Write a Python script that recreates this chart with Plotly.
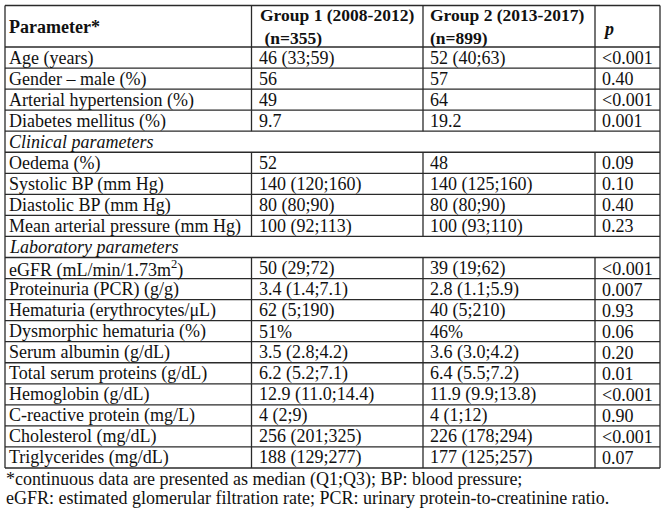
import plotly.graph_objects as go

# ---- data ----
header = ["Parameter*", "Group 1 (2008-2012)<br> (n=355)", "Group 2 (2013-2017)<br>(n=899)", "<i>p</i>"]
parameters = [
    "Age (years)", "Gender – male (%)", "Arterial hypertension (%)", "Diabetes mellitus (%)",
    "Clinical parameters",
    "Oedema (%)", "Systolic BP (mm Hg)", "Diastolic BP (mm Hg)", "Mean arterial pressure (mm Hg)",
    "Laboratory parameters",
    "eGFR (mL/min/1.73m<sup>2</sup>)", "Proteinuria (PCR) (g/g)", "Hematuria (erythrocytes/μL)",
    "Dysmorphic hematuria (%)", "Serum albumin (g/dL)", "Total serum proteins (g/dL)",
    "Hemoglobin (g/dL)", "C-reactive protein (mg/L)", "Cholesterol (mg/dL)", "Triglycerides (mg/dL)",
]
group1 = ["46 (33;59)", "56", "49", "9.7", None, "52", "140 (120;160)", "80 (80;90)", "100 (92;113)", None,
          "50 (29;72)", "3.4 (1.4;7.1)", "62 (5;190)", "51%", "3.5 (2.8;4.2)", "6.2 (5.2;7.1)",
          "12.9 (11.0;14.4)", "4 (2;9)", "256 (201;325)", "188 (129;277)"]
group2 = ["52 (40;63)", "57", "64", "19.2", None, "48", "140 (125;160)", "80 (80;90)", "100 (93;110)", None,
          "39 (19;62)", "2.8 (1.1;5.9)", "40 (5;210)", "46%", "3.6 (3.0;4.2)", "6.4 (5.5;7.2)",
          "11.9 (9.9;13.8)", "4 (1;12)", "226 (178;294)", "177 (125;257)"]
p_values = ["<0.001", "0.40", "<0.001", "0.001", None, "0.09", "0.10", "0.40", "0.23", None,
            "<0.001", "0.007", "0.93", "0.06", "0.20", "0.01", "<0.001", "0.90", "<0.001", "0.07"]
footnotes = ["*continuous data are presented as median (Q1;Q3); BP: blood pressure;",
             "eGFR: estimated glomerular filtration rate; PCR: urinary protein-to-creatinine ratio."]

# ---- layout geometry (pixel coordinates) ----
W, H = 667, 512
col_x = [5, 251.5, 423, 595, 660]
top, head_bot, bottom = 5.5, 47, 468
n = len(parameters)
rh = (bottom - head_bot) / n
FONT = "Liberation Serif"
FS = 18
LC = "#2a2a2a"
LW = 1.3

fig = go.Figure()
shapes = []
annos = []

def hline(y, x0=col_x[0], x1=col_x[-1]):
    shapes.append(dict(type="line", x0=x0, x1=x1, y0=y, y1=y, line=dict(color=LC, width=LW), xref="x", yref="y"))

def vline(x, y0, y1):
    shapes.append(dict(type="line", x0=x, x1=x, y0=y0, y1=y1, line=dict(color=LC, width=LW), xref="x", yref="y"))

def text(x, y, s, bold=False, italic=False, size=FS):
    if bold:
        s = "<b>" + s + "</b>"
    if italic:
        s = "<i>" + s + "</i>"
    annos.append(dict(x=x, y=y, text=s, showarrow=False, xanchor="left", yanchor="middle",
                      xref="x", yref="y", align="left",
                      font=dict(family=FONT, size=size, color="#111")))

# borders
hline(top)
for i in range(n + 1):
    hline(head_bot + i * rh)
vline(col_x[0], top, bottom)
vline(col_x[-1], top, bottom)
for cx in col_x[1:-1]:
    vline(cx, top, head_bot)

# header text
hc = (top + head_bot) / 2
text(col_x[0] + 2, hc + 1, header[0], bold=True)
text(col_x[1] + 6, hc, header[1], bold=True, size=17.5)
text(col_x[2] + 5, hc, header[2], bold=True, size=17.5)
text(col_x[3] + 6, hc + 3, header[3], bold=True)

for i, p in enumerate(parameters):
    y0 = head_bot + i * rh
    yc = y0 + rh / 2 + 0.5
    if group1[i] is None:
        text(col_x[0] + 2, yc, p, italic=True)
        continue
    for cx in col_x[1:-1]:
        vline(cx, y0, y0 + rh)
    text(col_x[0] + 2, yc, p)
    text(col_x[1] + 5, yc, group1[i])
    text(col_x[2] + 5, yc, group2[i])
    text(col_x[3] + 5, yc, p_values[i])

for j, fn in enumerate(footnotes):
    text(4, 479 + j * 19, fn)

fig.update_layout(
    width=W, height=H, margin=dict(l=0, r=0, t=0, b=0),
    paper_bgcolor="white", plot_bgcolor="white",
    xaxis=dict(range=[0, W], visible=False, fixedrange=True),
    yaxis=dict(range=[H, 0], visible=False, fixedrange=True),
    shapes=shapes, annotations=annos, showlegend=False,
)
fig.write_html("out.html", config={"displayModeBar": False},
               post_script="document.body.style.margin='0';document.body.style.overflow='hidden';")
